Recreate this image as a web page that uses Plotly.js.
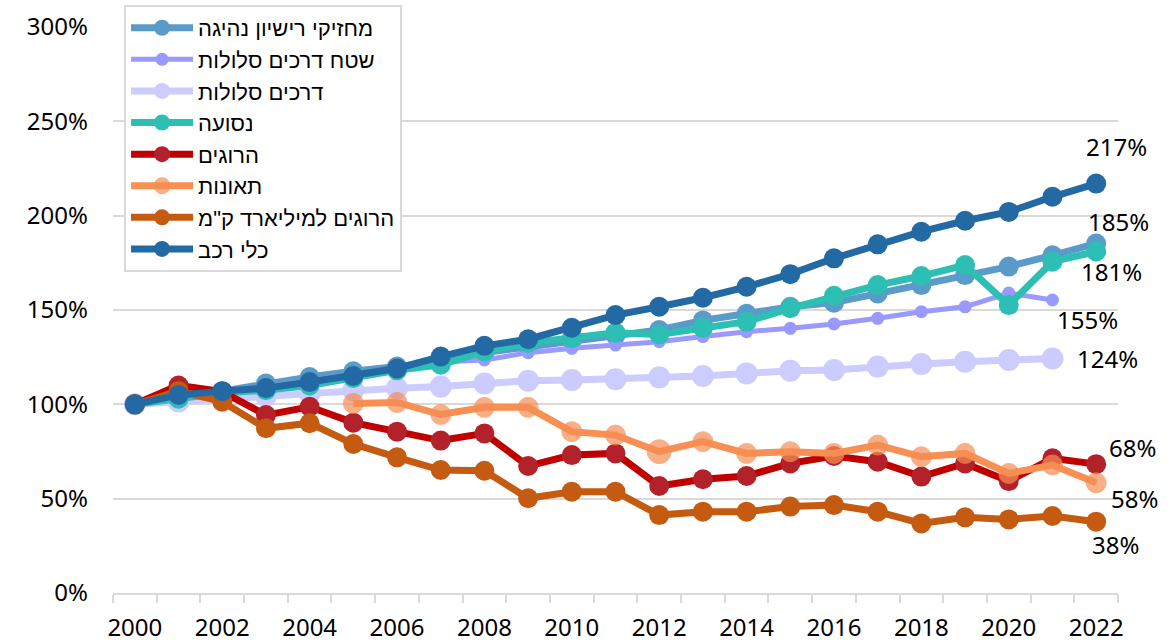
<!DOCTYPE html>
<html>
<head>
<meta charset="utf-8">
<script src="https://cdn.plot.ly/plotly-3.0.1.min.js"></script>
<style>html,body{margin:0;padding:0;background:#fff;}#chart{width:1171px;height:643px;}</style>
</head>
<body>
<div id="chart"></div>
<script>
// Categories
const years = [2000,2001,2002,2003,2004,2005,2006,2007,2008,2009,2010,2011,2012,2013,2014,2015,2016,2017,2018,2019,2020,2021,2022];

// Series (index, 2000 = 100%)
const licenseHolders = [100,104,107,111,114.5,117.5,120,122.6,127.5,130.5,134,136.7,139.4,144.5,148,151.7,153.9,158.8,163.2,168.5,173,179,185.2];
const pavedRoadArea  = [100,103.5,106,109,112.5,116,119.5,122.5,123.5,127.4,129.7,131.4,133.2,135.9,138.5,140.3,142.6,145.6,149.1,151.7,159,155.3,null];
const pavedRoads     = [100,101.5,103,104.5,106,107.5,108.5,109.4,111.1,112.5,112.9,113.3,114.3,115,116.4,117.8,118.2,120,121.4,122.6,123.5,124.3,null];
const travel         = [100,103,106,107.5,110,114,118,121,128,132.5,135,138,137,140.5,143.8,150.9,157.5,163.2,168,173.8,152.6,175.6,181];
const fatalities     = [100,110,106.7,94.3,98.7,90.3,85.5,80.8,84.6,67.3,73.1,74,56.7,60.3,62,68.7,72.6,69.6,61.7,68.7,59.3,71.4,68.3];
const accidents      = [null,null,null,null,null,100.5,101,94.6,98.4,98.4,85.5,83.7,74.9,80.2,74,74.9,74,78.4,72.2,74,63.4,67.8,58.4];
const fatalPerBnKm   = [100,107,101.4,87.3,90,79,71.9,65.2,64.8,50.2,53.7,53.7,41.3,43.1,43.1,45.8,46.6,43.1,36.9,40.1,39,40.8,37.8];
const vehicles       = [100,105,107,108.6,111.8,115,119,125.3,131,134.5,140.6,147.3,151.7,156.5,162.3,169,177.4,184.8,191.5,197.3,202,210,217];

// Legend names
const names = ['מחזיקי רישיון נהיגה','שטח דרכים סלולות','דרכים סלולות','נסועה','הרוגים','תאונות','הרוגים למיליארד ק"מ','כלי רכב'];

// Tick labels
const yearTickLabels = ['2000','2002','2004','2006','2008','2010','2012','2014','2016','2018','2020','2022'];

const FONT = '"Noto Sans", "Liberation Sans", "DejaVu Sans", sans-serif';
const LEGEND_FONT = '"Liberation Sans", Arial, "DejaVu Sans", sans-serif';

const seriesDefs = [
  {y: licenseHolders, line:'#5b9bc9', mk:'#5b9bc9', lw:7, ms:20, lab:{dx:22, dy:-22}},
  {y: pavedRoadArea,  line:'#9999ff', mk:'#9999ff', lw:5, ms:13, lab:{dx:35, dy:19}},
  {y: pavedRoads,     line:'#ccccff', mk:'#ccccff', lw:7, ms:22, lab:{dx:23, dy:0, left:true}},
  {y: travel,         line:'#2ebfb4', mk:'#2ebfb4', lw:7, ms:20, lab:{dx:15, dy:20}},
  {y: fatalities,     line:'#c00000', mk:'#b3222a', lw:7, ms:20, lab:{dx:36, dy:-17}},
  {y: accidents,      line:'#f79052', mk:'#f68d54', lw:7, ms:20, lab:{dx:38, dy:16}},
  {y: fatalPerBnKm,   line:'#c55a11', mk:'#c55a11', lw:7, ms:20, lab:{dx:19, dy:23}},
  {y: vehicles,       line:'#2369a3', mk:'#2369a3', lw:7, ms:20, lab:{dx:20, dy:-37}}
];

const traces = seriesDefs.map((s, i) => ({
  type: 'scatter',
  mode: 'lines+markers',
  name: names[i],
  x: years,
  y: s.y,
  connectgaps: false,
  line: {color: s.line, width: s.lw},
  marker: {color: s.mk, size: (i === 5) ? years.map(yr => yr === 2012 ? 24 : s.ms) : s.ms},
  hoverinfo: 'x+y+name'
}));

const annotations = seriesDefs.map((s) => {
  let lastIdx = -1;
  for (let k = 0; k < s.y.length; k++) if (s.y[k] !== null) lastIdx = k;
  return {
    x: years[lastIdx], y: s.y[lastIdx], xref: 'x', yref: 'y',
    text: Math.round(s.y[lastIdx]) + '%',
    showarrow: false,
    xanchor: s.lab.left ? 'left' : 'center',
    yanchor: 'middle',
    xshift: s.lab.dx, yshift: -s.lab.dy,
    font: {family: FONT, size: 24, color: '#000'}
  };
});

const layout = {
  width: 1171, height: 643,
  margin: {l: 113, r: 53, t: 27, b: 50, pad: 0, autoexpand: false},
  paper_bgcolor: '#fff', plot_bgcolor: '#fff',
  font: {family: FONT, size: 24, color: '#000'},
  showlegend: true,
  legend: {
    x: 0.011, y: 1.039, xanchor: 'left', yanchor: 'top',
    bgcolor: '#fff', bordercolor: '#d9d9d9', borderwidth: 2,
    font: {family: LEGEND_FONT, size: 22, color: '#000'},
    itemwidth: 62, tracegroupgap: 0
  },
  xaxis: {
    range: [1999.5, 2022.5], fixedrange: true, automargin: false,
    tickmode: 'array', tickvals: years.filter((y, i) => i % 2 === 0), ticktext: yearTickLabels,
    ticks: '', showgrid: false, zeroline: false,
    showline: true, linecolor: '#d9d9d9', linewidth: 2,
    ticklabelstandoff: 12,
    tickfont: {family: FONT, size: 24, color: '#000'},
    minor: {tickmode: 'linear', tick0: 1999.5, dtick: 1, ticks: 'outside', ticklen: 8, tickwidth: 2, tickcolor: '#d9d9d9', showgrid: false}
  },
  yaxis: {
    range: [0, 300], dtick: 50, tick0: 0, ticksuffix: '%', fixedrange: true, automargin: false,
    showgrid: true, gridcolor: '#d9d9d9', gridwidth: 2,
    zeroline: false, showline: false, ticks: '',
    ticklabelstandoff: 24,
    tickfont: {family: FONT, size: 24, color: '#000'}
  },
  annotations: annotations
};

Plotly.newPlot('chart', traces, layout, {displayModeBar: false, staticPlot: true});
</script>
</body>
</html>
